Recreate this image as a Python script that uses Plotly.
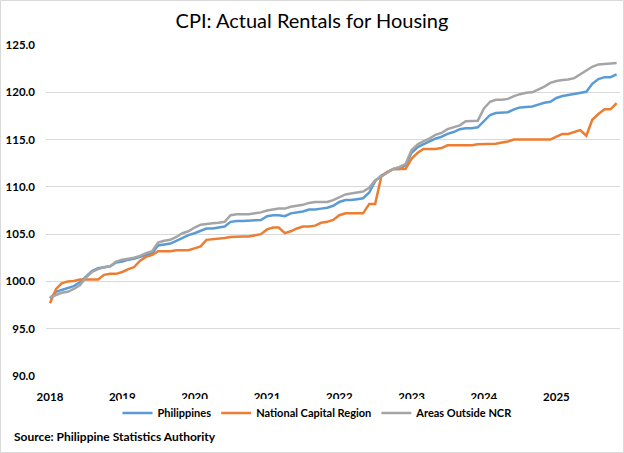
import pandas as pd
import plotly.graph_objects as go

months = pd.date_range("2018-01-01", periods=95, freq="MS")

philippines = [
    98.2, 98.9, 99.1, 99.3, 99.5, 99.9, 100.5, 101.1, 101.4, 101.5, 101.6, 102.0,
    102.1, 102.3, 102.4, 102.6, 102.8, 103.0, 103.8, 103.9, 104.0, 104.3, 104.6, 104.9,
    105.1, 105.4, 105.6, 105.6, 105.7, 105.8, 106.3, 106.4, 106.4, 106.45, 106.5, 106.5,
    106.9, 107.0, 107.0, 106.9, 107.2, 107.3, 107.4, 107.6, 107.6, 107.7, 107.8, 108.0,
    108.4, 108.6, 108.6, 108.7, 108.8, 109.4, 110.6, 111.2, 111.6, 111.9, 111.9, 112.3,
    113.6, 114.2, 114.5, 114.8, 115.1, 115.3, 115.6, 115.8, 116.1, 116.2, 116.2, 116.3,
    117.0, 117.6, 117.8, 117.85, 117.9, 118.2, 118.4, 118.45, 118.5, 118.7, 118.9, 119.0,
    119.4, 119.6, 119.7, 119.8, 119.95, 120.05, 120.9, 121.4, 121.6, 121.6, 121.9,
]

ncr = [
    97.7, 99.2, 99.8, 100.0, 100.05, 100.2, 100.2, 100.2, 100.2, 100.7, 100.8, 100.8,
    101.0, 101.3, 101.5, 102.2, 102.6, 102.8, 103.2, 103.2, 103.2, 103.3, 103.3, 103.3,
    103.5, 103.7, 104.4, 104.45, 104.5, 104.6, 104.7, 104.75, 104.75, 104.75, 104.9, 105.0,
    105.5, 105.7, 105.7, 105.1, 105.3, 105.6, 105.8, 105.8, 105.9, 106.2, 106.3, 106.5,
    107.0, 107.2, 107.2, 107.2, 107.2, 108.2, 108.2, 111.1, 111.6, 111.9, 111.9, 111.9,
    113.0, 113.6, 114.0, 114.0, 114.0, 114.1, 114.4, 114.4, 114.4, 114.4, 114.4, 114.5,
    114.5, 114.5, 114.55, 114.7, 114.8, 115.0, 115.0, 115.0, 115.0, 115.0, 115.0, 115.0,
    115.3, 115.6, 115.6, 115.8, 116.0, 115.4, 117.1, 117.7, 118.2, 118.2, 118.85,
]

outside_ncr = [
    98.3, 98.6, 98.8, 98.9, 99.2, 99.6, 100.4, 101.0, 101.3, 101.5, 101.6, 102.1,
    102.3, 102.4, 102.5, 102.7, 103.0, 103.2, 104.1, 104.3, 104.4, 104.7, 105.1, 105.3,
    105.7, 106.0, 106.1, 106.15, 106.2, 106.3, 107.0, 107.1, 107.1, 107.1, 107.2, 107.3,
    107.5, 107.6, 107.7, 107.7, 107.9, 108.0, 108.1, 108.3, 108.4, 108.4, 108.4, 108.6,
    108.9, 109.2, 109.3, 109.4, 109.5, 109.9, 110.7, 111.1, 111.5, 111.9, 112.1, 112.4,
    113.9, 114.5, 114.8, 115.1, 115.5, 115.7, 116.1, 116.3, 116.5, 116.95, 117.0, 117.0,
    118.3, 119.0, 119.2, 119.2, 119.3, 119.6, 119.8, 119.95, 120.0, 120.3, 120.6, 121.0,
    121.2, 121.3, 121.35, 121.5, 121.9, 122.3, 122.7, 122.95, 123.0, 123.05, 123.1,
]

year_ticks = [f"{y}-01-01" for y in range(2018, 2026)]
year_labels = [str(y) for y in range(2018, 2026)]

FONT = "Lato"
series = [
    ("Philippines", philippines, "#5B9BD5"),
    ("National Capital Region", ncr, "#ED7D31"),
    ("Areas Outside NCR", outside_ncr, "#A5A5A5"),
]

fig = go.Figure()
for name, vals, color in series:
    fig.add_trace(go.Scatter(
        x=months, y=vals, name=name, mode="lines",
        line=dict(color=color, width=2.5),
    ))

W, H = 624, 453
ml, mr, mt, mb = 46, 4, 45, 77
pw, ph = W - ml - mr, H - mt - mb

fig.update_layout(
    width=W, height=H,
    margin=dict(l=ml, r=mr, t=mt, b=mb),
    paper_bgcolor="white", plot_bgcolor="white",
    font=dict(family=FONT, size=11, color="#000000"),
    title=dict(
        text="CPI: Actual Rentals for Housing",
        x=0.5, xanchor="center", y=1 - 21 / H, yanchor="middle",
        font=dict(family=FONT, size=20, color="#000000"),
    ),
    showlegend=True,
    legend=dict(
        orientation="h", x=0.5 - (ml - mr) / 2 / pw + 6 / pw, xanchor="center",
        y=-(413 - (mt + ph)) / ph, yanchor="middle",
        font=dict(family=FONT, size=11, color="#000000", weight="bold"),
        itemwidth=30, traceorder="normal",
    ),
    xaxis=dict(
        type="date",
        range=["2017-12-12", "2025-11-18"],
        tickvals=year_ticks, ticktext=year_labels,
        showgrid=False, zeroline=False, showline=False,
        ticks="", ticklabelstandoff=12,
        tickfont=dict(family=FONT, size=11.5, color="#000000", weight="bold"),
        fixedrange=True,
    ),
    yaxis=dict(
        range=[90, 125], dtick=5, tick0=90, tickformat=".1f",
        showgrid=True, gridcolor="#D9D9D9", gridwidth=1,
        zeroline=False, showline=False, ticks="",
        ticklabelstandoff=10,
        tickfont=dict(family=FONT, size=11.5, color="#000000", weight="bold"),
        fixedrange=True,
    ),
)

fig.add_annotation(
    text="Source: Philippine Statistics Authority",
    xref="paper", yref="paper",
    x=-(ml - 12) / pw, xanchor="left",
    y=-(437 - (mt + ph)) / ph, yanchor="middle",
    showarrow=False,
    font=dict(family=FONT, size=12, color="#000000", weight="bold"),
)

fig.add_shape(
    type="rect", xref="paper", yref="paper",
    x0=-(ml - 0.5) / pw, x1=1 + (mr - 0.5) / pw,
    y0=-(mb - 0.5) / ph, y1=1 + (mt - 0.5) / ph,
    line=dict(color="#D9D9D9", width=1), fillcolor="rgba(0,0,0,0)",
    layer="below",
)

fig.write_html(
    "out.html",
    config={"displayModeBar": False},
    post_script="document.body.style.margin='0';document.body.style.padding='0';",
)
